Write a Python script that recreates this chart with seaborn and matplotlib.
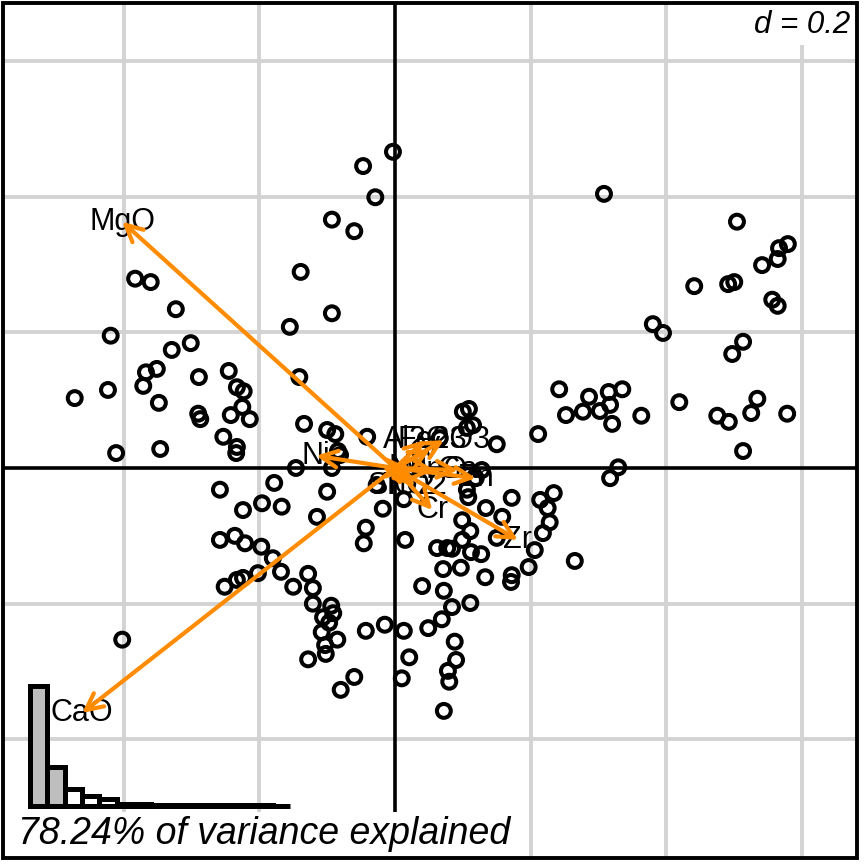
import numpy as np
import pandas as pd
import matplotlib
matplotlib.use("Agg")
import matplotlib.pyplot as plt
from matplotlib.patches import Rectangle
import seaborn as sns

# ---- data (row scores on PC1 / PC2) ----
pc1 = [-0.003, -0.047, -0.029, -0.093, -0.060, -0.139, -0.093, -0.155, -0.383, -0.360,
       -0.323, -0.419, -0.301, -0.329, -0.367, -0.351, -0.371, -0.423, -0.472, -0.348,
       -0.289, -0.245, -0.233, -0.223, -0.141, -0.225, -0.290, -0.287, -0.242, -0.214,
       -0.134, -0.100, -0.088, -0.041, -0.084, -0.081, -0.253, -0.233, -0.234, -0.411,
       -0.346, -0.146, -0.093, -0.402,
       0.308, 0.504, 0.579, 0.566, 0.564, 0.541, 0.441, 0.491, 0.500, 0.556,
       0.564, 0.380, 0.395, 0.513, 0.497, 0.242, 0.335, 0.315, 0.286, 0.317,
       0.302, 0.252, 0.277, 0.320, 0.363, 0.419, 0.534, 0.525, 0.475, 0.492,
       0.578, 0.513, 0.211, 0.150, 0.100, 0.109, 0.106, 0.115, 0.329, 0.317,
       -0.178, -0.258, -0.196, -0.167, -0.224, -0.100, -0.115, -0.258, -0.236, -0.221,
       -0.197, -0.180, -0.168, -0.202, -0.233, -0.224, -0.251, -0.150, -0.128, -0.121,
       -0.121, -0.094, -0.091, -0.106, -0.097, -0.108, -0.085, -0.103, -0.102, -0.128,
       -0.043, -0.015, 0.013, -0.060, -0.080, 0.021, 0.010,
       -0.027, -0.018, 0.013, -0.043, -0.046, 0.015, 0.049, 0.069, 0.084, 0.111,
       0.072, 0.040, 0.071, 0.097, 0.112, 0.127, 0.133, 0.172, 0.171, 0.197,
       0.206, 0.218, 0.228, 0.225, 0.214, 0.234, 0.265, 0.172, 0.134, 0.158,
       0.099, 0.111, 0.099, 0.062, 0.077, 0.084, 0.150, 0.088, 0.090, 0.078,
       0.080, 0.072, 0.106, 0.108, 0.066, 0.128, 0.119]
pc2 = [0.466, 0.445, 0.399, 0.366, 0.349, 0.289, 0.228, 0.208, 0.279, 0.274,
       0.234, 0.195, 0.184, 0.174, 0.141, 0.146, 0.121, 0.115, 0.103, 0.096,
       0.134, 0.143, 0.119, 0.113, 0.134, 0.090, 0.080, 0.072, 0.078, 0.072,
       0.065, 0.056, 0.050, 0.046, 0.025, 0.019, 0.046, 0.031, 0.022, 0.022,
       0.028, 0.000, 0.000, -0.253,
       0.404, 0.363, 0.330, 0.324, 0.308, 0.299, 0.268, 0.271, 0.274, 0.248,
       0.239, 0.212, 0.199, 0.186, 0.168, 0.116, 0.116, 0.112, 0.105, 0.093,
       0.084, 0.078, 0.083, 0.065, 0.077, 0.097, 0.102, 0.081, 0.077, 0.068,
       0.080, 0.025, 0.050, 0.035, 0.083, 0.087, 0.059, 0.063, 0.001, -0.015,
       -0.022, -0.032, -0.052, -0.057, -0.062, -0.035, -0.072, -0.106, -0.100, -0.111,
       -0.116, -0.133, -0.153, -0.155, -0.165, -0.162, -0.175, -0.175, -0.156, -0.177,
       -0.200, -0.203, -0.214, -0.220, -0.228, -0.242, -0.253, -0.261, -0.274, -0.282,
       -0.240, -0.231, -0.240, -0.308, -0.327, -0.279, -0.310,
       -0.025, -0.060, -0.046, -0.088, -0.111, -0.106, -0.236, -0.223, -0.205, -0.199,
       -0.181, -0.174, -0.149, -0.147, -0.124, -0.127, -0.161, -0.158, -0.168, -0.146,
       -0.121, -0.096, -0.080, -0.059, -0.047, -0.037, -0.137, -0.044, -0.059, -0.072,
       -0.077, -0.093, -0.106, -0.118, -0.118, -0.119, -0.103, -0.256, -0.283, -0.299,
       -0.315, -0.358, -0.032, -0.043, 0.044, -0.003, -0.015]

# ---- variable loadings (arrows) ----
var_names = ["MgO", "CaO", "Ni", "Zr", "Cr", "Al2O3", "Fe2O3", "V", "Nb",
             "MnO", "Ga", "SiO2", "TiO2", "Zn"]
var_x = [-0.402, -0.461, -0.116, 0.181, 0.055, 0.044, 0.072, 0.052, 0.019,
         0.059, 0.093, 0.009, 0.029, 0.119]
var_y = [0.363, -0.361, 0.018, -0.106, -0.062, 0.041, 0.041, 0.027, 0.000,
         -0.003, -0.003, -0.027, -0.027, -0.015]

# ---- eigenvalues (scree inset) ----
eigenvalues = [117, 38, 17, 10, 7, 2, 1.5, 1.2, 1.0, 0.9, 0.8, 0.7, 0.6, 0.5, 0.4]
n_selected = 2
grid_d = 0.2
variance_text = "78.24% of variance explained"

sns.set_theme(style="white")
plt.rcParams["font.family"] = ["Liberation Sans", "DejaVu Sans"]

fig = plt.figure(figsize=(8.64, 8.64), dpi=100)
fig.patch.set_facecolor("white")
ax = fig.add_axes([3 / 864, 6 / 864, 854 / 864, 855 / 864])
ax.set_facecolor("white")
ax.set_xlim(-0.5777, 0.6809)
ax.set_ylim(-0.5748, 0.6853)

ticks = [-0.4, -0.2, 0.2, 0.4, 0.6]
ax.set_xticks(ticks)
ax.set_yticks(ticks)
ax.set_xticklabels([])
ax.set_yticklabels([])
ax.tick_params(length=0)
ax.grid(True, color="#D3D3D3", lw=2.8)
ax.set_axisbelow(True)
for s in ax.spines.values():
    s.set_visible(False)
ax.axhline(0, color="black", lw=2.6, zorder=1)
ax.axvline(0, color="black", lw=2.6, zorder=1)

df = pd.DataFrame({"PC1": pc1, "PC2": pc2})
sns.scatterplot(data=df, x="PC1", y="PC2", ax=ax, marker="o", s=100,
                edgecolor="black", linewidth=2.9, zorder=2, legend=False)
pts = ax.collections[-1]
pts.set_facecolor("none")
pts.set_edgecolor("black")
pts.set_linewidth(2.9)
pts.set_sizes([100])
ax.set_xlabel("")
ax.set_ylabel("")

for name, x, y in zip(var_names, var_x, var_y):
    ax.text(x, y, name, ha="center", va="center", fontsize=22,
            color="black", zorder=3)
    ax.annotate("", xy=(x, y), xytext=(0, 0),
                arrowprops=dict(arrowstyle="->,head_length=0.6,head_width=0.3",
                                color="#FF8C00", lw=3.0, shrinkA=0, shrinkB=0,
                                mutation_scale=20),
                zorder=4)

# white label boxes and frame
tr = fig.transFigure
fig.patches.append(Rectangle((745 / 864, 1 - 45 / 864), 112 / 864, 42 / 864,
                             transform=tr, facecolor="white", edgecolor="none",
                             zorder=5))
fig.patches.append(Rectangle((3 / 864, 6 / 864), 518 / 864, 46 / 864,
                             transform=tr, facecolor="white", edgecolor="none",
                             zorder=5))
fig.patches.append(Rectangle((3 / 864, 6 / 864), 854 / 864, 855 / 864,
                             transform=tr, facecolor="none", edgecolor="black",
                             lw=2.8, zorder=6))

fig.text(850 / 864, 1 - 25 / 864, f"d = {grid_d}", ha="right", va="center",
         fontsize=22.5, style="italic", color="black", zorder=7)
fig.text(18 / 864, 1 - 834 / 864, variance_text, ha="left", va="center",
         fontsize=27, style="italic", color="black", zorder=7)

# scree inset
ax2 = fig.add_axes([30 / 864, 58 / 864, 260 / 864, 120 / 864])
ax2.patch.set_alpha(0)
ax2.axis("off")
colors = ["#BEBEBE" if i < n_selected else "white" for i in range(len(eigenvalues))]
ax2.bar(np.arange(len(eigenvalues)), eigenvalues, width=1, align="edge",
        color=colors, edgecolor="black", linewidth=3.6, clip_on=False)
ax2.set_xlim(0, len(eigenvalues))
ax2.set_ylim(0, max(eigenvalues))

fig.savefig("out.png", dpi=100, facecolor="white")
